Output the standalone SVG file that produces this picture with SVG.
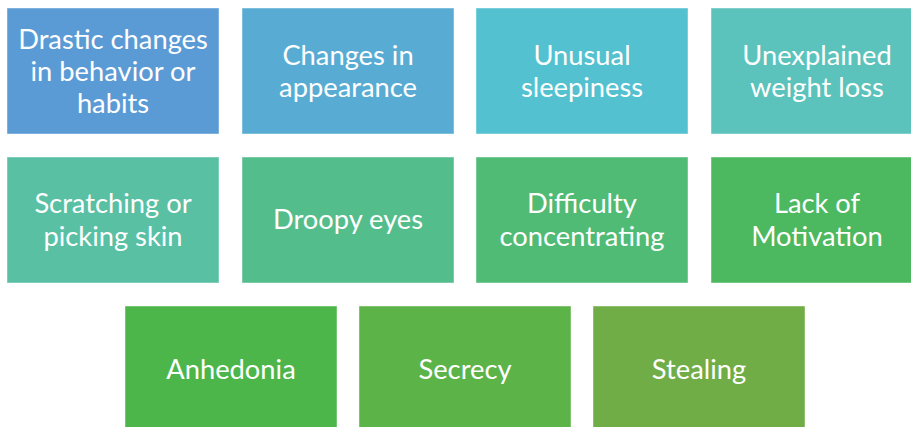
<svg xmlns="http://www.w3.org/2000/svg" width="911" height="427" viewBox="0 0 911 427">
  <style>
    .box rect { stroke: #ffffff; stroke-opacity: 0.45; stroke-width: 1; }
    .box text { font-family: Lato, "Open Sans", "Liberation Sans", sans-serif; font-size: 27.3px; fill: #ffffff; text-anchor: middle; }
  </style>
  <rect width="911" height="427" fill="#ffffff"/>
  <!-- row 1 -->
  <g id="n1" class="box">
    <rect x="7" y="8" width="212" height="126" fill="#5b9bd5"/>
    <text x="113" y="49">Drastic changes</text>
    <text x="113" y="81">in behavior or</text>
    <text x="113" y="113">habits</text>
  </g>
  <g id="n2" class="box">
    <rect x="242" y="8" width="212" height="126" fill="#58acd3"/>
    <text x="348" y="65">Changes in</text>
    <text x="348" y="97">appearance</text>
  </g>
  <g id="n3" class="box">
    <rect x="476" y="8" width="212" height="126" fill="#53c1cf"/>
    <text x="582" y="65">Unusual</text>
    <text x="582" y="97">sleepiness</text>
  </g>
  <g id="n4" class="box">
    <rect x="711" y="8" width="212" height="126" fill="#5bc3bb"/>
    <text x="817" y="65">Unexplained</text>
    <text x="817" y="97">weight loss</text>
  </g>
  <!-- row 2 -->
  <g id="n5" class="box">
    <rect x="7" y="157" width="212" height="126" fill="#59c0a4"/>
    <text x="113" y="213">Scratching or</text>
    <text x="113" y="246">picking skin</text>
  </g>
  <g id="n6" class="box">
    <rect x="242" y="157" width="212" height="126" fill="#54bd8c"/>
    <text x="348" y="229">Droopy eyes</text>
  </g>
  <g id="n7" class="box">
    <rect x="476" y="157" width="212" height="126" fill="#50bb75"/>
    <text x="582" y="213">Difficulty</text>
    <text x="582" y="246">concentrating</text>
  </g>
  <g id="n8" class="box">
    <rect x="711" y="157" width="212" height="126" fill="#4cb85f"/>
    <text x="817" y="213">Lack of</text>
    <text x="817" y="246">Motivation</text>
  </g>
  <!-- row 3 -->
  <g id="n9" class="box">
    <rect x="125" y="306" width="212" height="126" fill="#4cb64a"/>
    <text x="231" y="379">Anhedonia</text>
  </g>
  <g id="n10" class="box">
    <rect x="359" y="306" width="212" height="126" fill="#5cb348"/>
    <text x="465" y="379">Secrecy</text>
  </g>
  <g id="n11" class="box">
    <rect x="593" y="306" width="212" height="126" fill="#70ad47"/>
    <text x="699" y="379">Stealing</text>
  </g>
  <g id="connectors"/>
</svg>
